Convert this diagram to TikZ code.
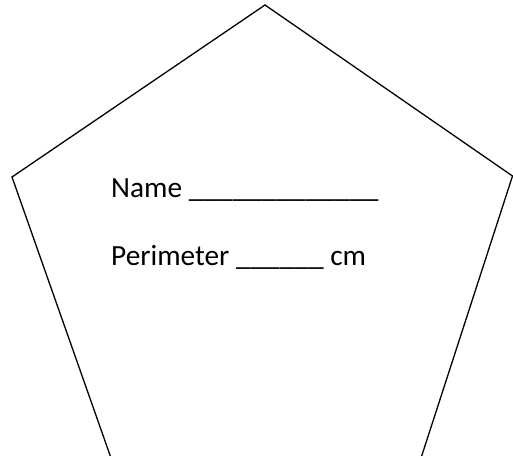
\documentclass[tikz,border=0pt]{standalone}
\usepackage{fontspec}
\setmainfont{Carlito}
\tikzset{
  outline/.style={draw=black, line width=1.3pt, line join=miter},
  label/.style={anchor=base west, inner sep=0pt, font=\fontsize{29.3}{35}\selectfont}
}
\begin{document}
\begin{tikzpicture}[x=1pt,y=-1pt]
\useasboundingbox (0,0) rectangle (513,455);
\begin{scope}
\clip (0,0) rectangle (513,455);
\coordinate (top) at (265,5);
\coordinate (rt) at (512.5,176);
\coordinate (lt) at (12,177);
\coordinate (bl) at (117,475);
\coordinate (br) at (415.5,475);
\draw[outline] (top) -- (rt) -- (br) -- (bl) -- (lt) -- cycle;
\end{scope}
\node[label] (name) at (111,197) {Name \_\_\_\_\_\_\_\_\_\_\_\_\_};
\node[label] (perim) at (111,265) {Perimeter \_\_\_\_\_\_ cm};
\end{tikzpicture}
\end{document}
